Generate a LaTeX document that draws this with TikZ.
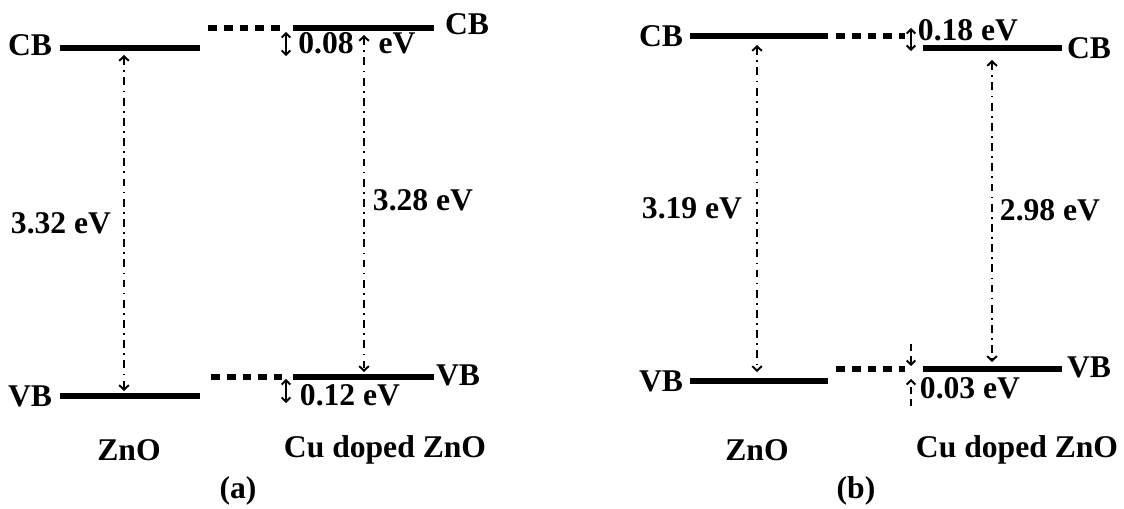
\documentclass[tikz,border=0pt]{standalone}
\usepackage{fontspec}
\setmainfont{Liberation Serif}
\usetikzlibrary{arrows.meta}
\begin{document}
\begin{tikzpicture}[x=0.02cm,y=-0.02cm,
  band/.style={line width=3.6pt},
  bandd/.style={line width=3.6pt,dash pattern=on 5pt off 4pt},
  gap/.style={line width=1.1pt,dash pattern=on 4.5pt off 3pt on 1pt off 3pt,
     {Straight Barb[length=2.6pt,width=5.5pt,line width=1.1pt]}-{Straight Barb[length=2.6pt,width=5.5pt,line width=1.1pt]}},
  small/.style={line width=1.1pt,
     {Straight Barb[length=2.4pt,width=5pt,line width=1.1pt]}-{Straight Barb[length=2.4pt,width=5pt,line width=1.1pt]}},
  onehead/.style={line width=1.1pt,dash pattern=on 4pt off 3pt,
     -{Straight Barb[length=2.4pt,width=5pt,line width=1.1pt]}},
  lbl/.style={inner sep=0pt,font=\fontsize{18}{21}\selectfont\bfseries}
]
\useasboundingbox (0,0) rectangle (1124,509);
% ---------- panel (a) ----------
\coordinate (aZC1) at (60,48);  \coordinate (aZC2) at (200,48);
\coordinate (aZV1) at (60,396); \coordinate (aZV2) at (200,396);
\coordinate (aDC1) at (208,28); \coordinate (aDC2) at (282,28);
\coordinate (aCC1) at (293,28); \coordinate (aCC2) at (434,28);
\coordinate (aDV1) at (211,377); \coordinate (aDV2) at (282,377);
\coordinate (aCV1) at (293,377); \coordinate (aCV2) at (434,377);
\draw[band] (aZC1) -- (aZC2);
\draw[band] (aZV1) -- (aZV2);
\draw[bandd] (aDC1) -- (aDC2);
\draw[band] (aCC1) -- (aCC2);
\draw[bandd] (aDV1) -- (aDV2);
\draw[band] (aCV1) -- (aCV2);
\coordinate (aG1t) at (124,55);  \coordinate (aG1b) at (124,391);
\coordinate (aG2t) at (364,35);  \coordinate (aG2b) at (364,372);
\draw[gap] (aG1t) -- (aG1b);
\draw[gap] (aG2t) -- (aG2b);
\coordinate (aS1t) at (286,32);  \coordinate (aS1b) at (286,56);
\coordinate (aS2t) at (286,379); \coordinate (aS2b) at (286,403);
\draw[small] (aS1t) -- (aS1b);
\draw[small] (aS2t) -- (aS2b);
\node[lbl] (aCBl) at (30,45) {CB};
\node[lbl] (aVBl) at (30,396) {VB};
\node[lbl] (aCBr) at (467,24) {CB};
\node[lbl] (aVBr) at (458,375) {VB};
\node[lbl] (a332) at (61,223) {3.32 eV};
\node[lbl] (a328) at (423,200) {3.28 eV};
\node[lbl] (a008) at (326,43) {0.08};
\node[lbl] (a008e) at (397,43) {eV};
\node[lbl] (a012) at (350,395) {0.12 eV};
\node[lbl] (aZnO) at (129,450) {ZnO};
\node[lbl] (aCu) at (385,450) {Cu doped ZnO};
\node[lbl] (aTag) at (238,491) {(a)};
% ---------- panel (b) ----------
\coordinate (bZC1) at (690,36);  \coordinate (bZC2) at (828,36);
\coordinate (bZV1) at (690,381); \coordinate (bZV2) at (828,381);
\coordinate (bDC1) at (836,36);  \coordinate (bDC2) at (905,36);
\coordinate (bCC1) at (923,48);  \coordinate (bCC2) at (1062,48);
\coordinate (bDV1) at (836,369); \coordinate (bDV2) at (905,369);
\coordinate (bCV1) at (923,369); \coordinate (bCV2) at (1062,369);
\draw[band] (bZC1) -- (bZC2);
\draw[band] (bZV1) -- (bZV2);
\draw[bandd] (bDC1) -- (bDC2);
\draw[band] (bCC1) -- (bCC2);
\draw[bandd] (bDV1) -- (bDV2);
\draw[band] (bCV1) -- (bCV2);
\coordinate (bG1t) at (757,45);  \coordinate (bG1b) at (757,372);
\coordinate (bG2t) at (992,60);  \coordinate (bG2b) at (992,362);
\draw[gap] (bG1t) -- (bG1b);
\draw[gap] (bG2t) -- (bG2b);
\coordinate (bS1t) at (911,28);  \coordinate (bS1b) at (911,51);
\draw[small] (bS1t) -- (bS1b);
\coordinate (bS2a) at (911,344); \coordinate (bS2b) at (911,366);
\coordinate (bS3a) at (911,406); \coordinate (bS3b) at (911,379);
\draw[onehead] (bS2a) -- (bS2b);
\draw[onehead] (bS3a) -- (bS3b);
\node[lbl] (bCBl) at (661,36) {CB};
\node[lbl] (bVBl) at (661,381) {VB};
\node[lbl] (bCBr) at (1089,48) {CB};
\node[lbl] (bVBr) at (1089,367) {VB};
\node[lbl] (b319) at (692,208) {3.19 eV};
\node[lbl] (b298) at (1050,210) {2.98 eV};
\node[lbl] (b018) at (968,30) {0.18 eV};
\node[lbl] (b003) at (970,388) {0.03 eV};
\node[lbl] (bZnO) at (757,450) {ZnO};
\node[lbl] (bCu) at (1017,450) {Cu doped ZnO};
\node[lbl] (bTag) at (856,491) {(b)};
\end{tikzpicture}
\end{document}
